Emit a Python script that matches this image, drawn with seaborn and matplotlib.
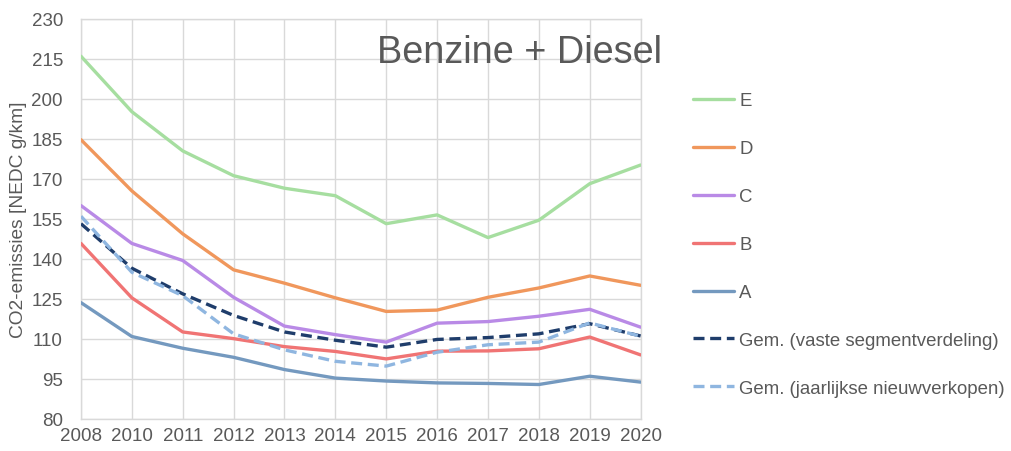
import pandas as pd
import numpy as np
import matplotlib.pyplot as plt
import seaborn as sns


years = ['2008', '2010', '2011', '2012', '2013', '2014', '2015', '2016', '2017', '2018', '2019', '2020']

seg_E = [216.0, 195.2, 180.5, 171.2, 166.5, 163.7, 153.2, 156.5, 148.0, 154.5, 168.2, 175.2]
seg_D = [184.7, 165.5, 149.4, 135.9, 130.9, 125.4, 120.3, 120.8, 125.6, 129.1, 133.6, 130.1]
seg_C = [160.0, 145.8, 139.4, 125.6, 114.8, 111.6, 108.8, 115.9, 116.5, 118.5, 121.1, 114.4]
seg_B = [145.8, 125.4, 112.6, 110.1, 107.1, 105.3, 102.5, 105.4, 105.5, 106.3, 110.7, 104.0]
seg_A = [123.6, 110.9, 106.5, 103.1, 98.5, 95.3, 94.2, 93.5, 93.3, 92.9, 96.0, 93.8]
gem_vast = [153.2, 136.5, 126.9, 118.8, 112.6, 109.5, 106.9, 109.8, 110.5, 111.9, 115.7, 111.1]
gem_jaar = [156.0, 135.0, 126.2, 111.9, 105.9, 101.6, 99.8, 105.0, 107.8, 108.8, 116.0, 111.0]

labels = ['E', 'D', 'C', 'B', 'A',
          'Gem. (vaste segmentverdeling)', 'Gem. (jaarlijkse nieuwverkopen)']
series = [seg_E, seg_D, seg_C, seg_B, seg_A, gem_vast, gem_jaar]
colors = ['#a6dea0', '#f0975c', '#b98ae6', '#f07474', '#7499bf', '#1f3d6b', '#8fb6e0']
dashed = [False, False, False, False, False, True, True]

rows = []
for lab, vals in zip(labels, series):
    for yr, v in zip(years, vals):
        rows.append({'jaar': yr, 'waarde': v, 'serie': lab})
df = pd.DataFrame(rows)

sns.set_style('white')
plt.rcParams['font.family'] = ['Liberation Sans', 'DejaVu Sans']
txt = '#595959'
grid = '#d9d9d9'

fig = plt.figure(figsize=(10.12, 4.52), dpi=100)
ax = fig.add_axes([0.080, 0.071, 0.553, 0.885])

for lab, col, d in zip(labels, colors, dashed):
    sub = df[df.serie == lab]
    sns.lineplot(data=sub, x='jaar', y='waarde', ax=ax, color=col, lw=2.4,
                 label=lab, sort=False, zorder=4 if d else 3)
    if d:
        ax.lines[-1].set_dashes((3.3, 1.7))

ax.set_ylim(80, 230)
ax.set_yticks(np.arange(80, 231, 15))
ax.set_xlim(0, len(years) - 1)
ax.grid(True, color=grid, lw=1.0)
ax.set_axisbelow(True)
for s in ax.spines.values():
    s.set_color(grid)
    s.set_linewidth(1.0)
ax.tick_params(colors=txt, labelsize=13.5, length=0)
ax.tick_params(axis='y', pad=13)
ax.tick_params(axis='x', pad=6)
ax.set_xlabel('')
ax.set_ylabel('CO2-emissies [NEDC g/km]', color=txt, fontsize=13.8, labelpad=3)

fig.text(0.373, 1 - 63 / 452, 'Benzine + Diesel', color=txt, fontsize=27.3,
         va='baseline', ha='left')

leg = ax.legend(loc='upper left', bbox_to_anchor=(1.081, 0.835), frameon=False,
                fontsize=13.4, labelspacing=1.66, handlelength=2.2, handletextpad=0.27,
                borderaxespad=0)
for t in leg.get_texts():
    t.set_color(txt)

fig.savefig('out.png', dpi=100)
